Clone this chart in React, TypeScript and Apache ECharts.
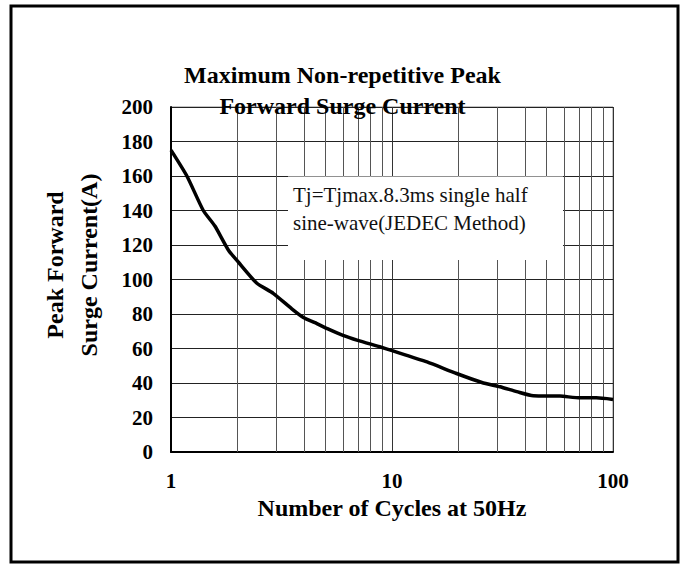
import React, { useEffect, useRef } from "react";
import * as echarts from "echarts";

const cycles = [1, 1.18, 1.4, 1.58, 1.82, 2.02, 2.44, 2.9, 3.52, 3.97, 4.48, 5.1, 6.0, 7.0, 8.8, 10.1, 14.4, 19.6, 25.5, 30.8, 36.7, 43.6, 57.6, 71, 84, 100];
const current = [175, 160, 140, 131, 117, 110, 98, 92, 83, 78, 75, 71.5, 67.6, 64.7, 61, 58.6, 52.2, 45.5, 40.3, 37.8, 35, 32.6, 32.4, 31.4, 31.4, 30.5];
const minorGridX = [2, 3, 4, 5, 6, 7, 8, 9, 20, 30, 40, 50, 60, 70, 80, 90];

const titleLines = ["Maximum Non-repetitive Peak", "Forward Surge Current"];
const xName = "Number of Cycles at 50Hz";
const yNameLines = ["Peak Forward", "Surge Current(A)"];
const noteLines = ["Tj=Tjmax.8.3ms single half", "sine-wave(JEDEC Method)"];

const SERIF = "'Liberation Serif', 'Times New Roman', serif";

export default function App() {
  const ref = useRef<HTMLDivElement>(null);
  useEffect(() => {
    if (!ref.current) return;
    const chart = echarts.init(ref.current, null, { renderer: "svg" });
    chart.setOption({
      animation: false,
      backgroundColor: "#fff",
      title: {
        text: titleLines.join("\n"),
        left: "center",
        top: 54,
        textStyle: {
          fontFamily: SERIF,
          fontWeight: "bold",
          fontSize: 24,
          lineHeight: 31,
          color: "#000",
        },
      },
      grid: {
        left: 171,
        top: 107,
        right: 72,
        bottom: 116,
        show: true,
        borderColor: "#888",
        borderWidth: 1,
        backgroundColor: "transparent",
      },
      xAxis: {
        type: "log",
        logBase: 10,
        min: 1,
        max: 100,
        name: xName,
        nameLocation: "middle",
        nameGap: 43,
        nameTextStyle: {
          fontFamily: SERIF,
          fontWeight: "bold",
          fontSize: 24,
          color: "#000",
        },
        axisLine: { show: true, lineStyle: { color: "#000", width: 2 } },
        axisTick: { show: false },
        axisLabel: {
          fontFamily: SERIF,
          fontWeight: "bold",
          fontSize: 21,
          color: "#000",
          margin: 18,
        },
        splitLine: { show: true, lineStyle: { color: "#333", width: 1 } },
      },
      yAxis: {
        type: "value",
        min: 0,
        max: 200,
        interval: 20,
        axisLine: { show: true, lineStyle: { color: "#000", width: 2 } },
        axisTick: { show: false },
        axisLabel: {
          fontFamily: SERIF,
          fontWeight: "bold",
          fontSize: 21,
          color: "#000",
          margin: 18,
        },
        splitLine: { show: true, lineStyle: { color: "#222", width: 1 } },
      },
      series: [
        {
          type: "line",
          data: [],
          z: 1,
          silent: true,
          markLine: {
            silent: true,
            symbol: "none",
            label: { show: false },
            lineStyle: { color: "#555", width: 1, type: "solid" },
            data: minorGridX.map((v) => ({ xAxis: v })),
          },
        },
        {
          type: "line",
          z: 5,
          data: cycles.map((c, i) => [c, current[i]]),
          showSymbol: false,
          smooth: 0.2,
          lineStyle: { color: "#000", width: 3.5 },
        },
      ],
      graphic: [
        {
          type: "rect",
          z: 50,
          shape: { x: 288, y: 176.5, width: 275, height: 83.5 },
          style: { fill: "#fff" },
        },
        {
          type: "text",
          z: 51,
          x: 293,
          y: 195,
          style: {
            text: noteLines[0],
            font: `21px ${SERIF}`,
            fill: "#111",
            verticalAlign: "middle",
            align: "left",
          },
        },
        {
          type: "text",
          z: 51,
          x: 293,
          y: 223,
          style: {
            text: noteLines[1],
            font: `21px ${SERIF}`,
            fill: "#111",
            verticalAlign: "middle",
            align: "left",
          },
        },
        {
          type: "text",
          z: 51,
          x: 72,
          y: 265,
          rotation: Math.PI / 2,
          style: {
            text: yNameLines.join("\n"),
            font: `bold 24px ${SERIF}`,
            lineHeight: 34,
            fill: "#000",
            align: "center",
            verticalAlign: "middle",
          },
        },
        {
          type: "rect",
          z: 60,
          shape: { x: 11, y: 6, width: 667, height: 556 },
          style: { fill: "none", stroke: "#000", lineWidth: 3 },
        },
      ],
    });
    return () => chart.dispose();
  }, []);
  return (
    <div
      ref={ref}
      style={{ position: "absolute", left: 0, top: 0, width: 685, height: 568 }}
    />
  );
}
